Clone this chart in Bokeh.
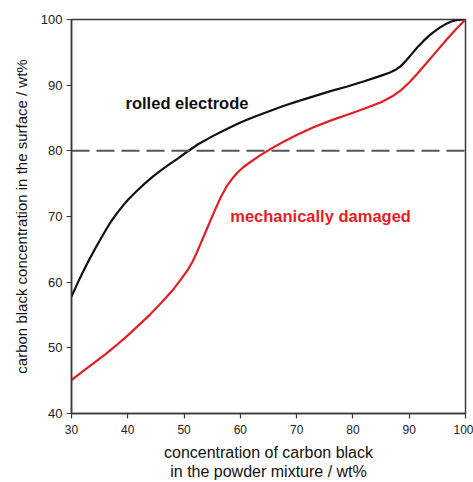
from bokeh.plotting import figure
from bokeh.models import Range1d, SingleIntervalTicker, Span, Label
from bokeh.embed import file_html
from bokeh.resources import INLINE

# --- data ---
rolled_x = [30, 31, 32, 33, 34, 35, 36, 37, 38, 39, 40, 41.5, 43, 44.5, 46, 47.5, 49, 50.6, 52.5,
            55, 57.5, 60, 62.5, 65, 67.5, 70, 73, 76, 79, 82, 84.5, 86.5, 87.5, 88.5, 89.5, 90.5,
            91.5, 92.5, 93.5, 94.5, 95.5, 96.5, 97.5, 98.5, 100]
rolled_y = [57.8, 59.7, 61.5, 63.2, 64.8, 66.3, 67.8, 69.2, 70.4, 71.5, 72.5, 73.8, 75.0, 76.1, 77.1,
            78.0, 78.9, 79.9, 81.0, 82.2, 83.3, 84.3, 85.2, 86.0, 86.8, 87.5, 88.3, 89.1, 89.8, 90.6,
            91.3, 91.9, 92.3, 92.9, 93.8, 94.8, 95.8, 96.7, 97.5, 98.2, 98.8, 99.3, 99.7, 99.95, 100]

damaged_x = [30, 32, 34, 36, 38, 40, 42, 44, 46, 48, 49.5, 50.6, 51.5, 52.2, 52.9, 53.8, 54.7, 55.6,
             56.5, 57.5, 58.5, 59.5, 60.5, 61.8, 63.5, 65.4, 67.5, 70, 73, 76, 79, 82, 85, 87, 88.5,
             90, 91.4, 93.2, 95, 96.7, 98.3, 100]
damaged_y = [45.1, 46.4, 47.7, 49.0, 50.4, 51.9, 53.5, 55.1, 56.9, 58.8, 60.5, 61.8, 63.1, 64.4, 65.8,
             67.6, 69.4, 71.2, 72.9, 74.5, 75.7, 76.7, 77.5, 78.3, 79.3, 80.3, 81.3, 82.4, 83.6, 84.6,
             85.5, 86.4, 87.4, 88.3, 89.2, 90.4, 91.7, 93.5, 95.3, 97.0, 98.5, 100]

threshold = 80
x_range = (30, 100)
y_range = (40, 100)
tick_step = 10
x_title = "concentration of carbon black\nin the powder mixture / wt%"
y_title = "carbon black concentration in the surface / wt%"

FONT = "Liberation Sans"
RED = "#e31e24"

p = figure(width=473, height=482, output_backend="svg", toolbar_location=None,
           x_range=Range1d(*x_range), y_range=Range1d(*y_range),
           min_border_left=71, min_border_right=8, min_border_top=19, min_border_bottom=69)

p.xgrid.visible = False
p.ygrid.visible = False
p.background_fill_color = "white"
p.border_fill_color = "white"
p.outline_line_color = "#3a3a3a"
p.outline_line_width = 1.5

for ax in (p.xaxis[0], p.yaxis[0]):
    ax.ticker = SingleIntervalTicker(interval=tick_step)
    ax.minor_tick_line_color = None
    ax.major_tick_in = 0
    ax.major_tick_out = 5
    ax.axis_line_color = "#3a3a3a"
    ax.axis_line_width = 1.5
    ax.major_tick_line_color = "#3a3a3a"
    ax.major_tick_line_width = 1.2
    ax.major_label_text_font = FONT
    ax.major_label_text_color = "#222222"
    ax.axis_label_text_font = FONT
    ax.axis_label_text_font_style = "normal"
    ax.axis_label_text_color = "#111111"

p.xaxis.major_label_text_font_size = "12px"
p.yaxis.major_label_text_font_size = "13px"
p.xaxis.major_label_standoff = 6
p.yaxis.major_label_standoff = 4
p.xaxis.axis_label = x_title
p.xaxis.axis_label_text_font_size = "16px"
p.xaxis.axis_label_text_line_height = 1.12
p.xaxis.axis_label_standoff = 7
p.yaxis.axis_label = y_title
p.yaxis.axis_label_text_font_size = "15px"
p.yaxis.axis_label_standoff = 8

p.add_layout(Span(location=threshold, dimension="width", line_color="#555555",
                  line_width=2, line_dash="18 7"))

p.line(rolled_x, rolled_y, line_color="#111111", line_width=2.2)
p.line(damaged_x, damaged_y, line_color=RED, line_width=2.2)

p.add_layout(Label(x=39.6, y=87.25, text="rolled electrode", text_font=FONT,
                   text_font_size="16.5px", text_font_style="bold", text_color="#111111",
                   text_baseline="middle", text_align="left"))
p.add_layout(Label(x=58.2, y=70.15, text="mechanically damaged", text_font=FONT,
                   text_font_size="16.5px", text_font_style="bold", text_color=RED,
                   text_baseline="middle", text_align="left"))

open("out.html", "w").write(file_html(p, INLINE))
